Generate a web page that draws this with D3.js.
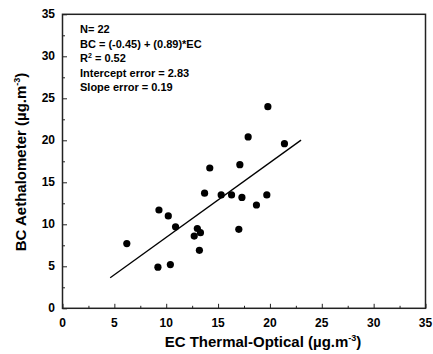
<!doctype html>
<html>
  <head>
    <script src="https://d3js.org/d3.v7.min.js"></script>
    <style>
      body { margin: 0; background: #fff; }
      text { font-family: Arial, "Liberation Sans", sans-serif; font-weight: bold; }
    </style>
  </head>
  <body>
    <div id="chart"></div>
    <script>
      // EC (thermal-optical) vs BC (aethalometer)
      var ecValues = [6.2, 9.2, 9.3, 10.2, 10.4, 10.9, 12.7, 13.0, 13.3, 13.2, 13.7, 14.2,
                      15.3, 16.3, 17.0, 17.1, 17.3, 17.9, 18.7, 19.7, 19.8, 21.4];
      var bcValues = [7.7, 4.9, 11.7, 11.0, 5.2, 9.7, 8.6, 9.5, 9.0, 6.9, 13.7, 16.7,
                      13.5, 13.5, 9.4, 17.1, 13.2, 20.4, 12.3, 13.5, 24.0, 19.6];
      var fitRange = [4.6, 23];
      var intercept = -0.45, slope = 0.89;
      var statLines = ["N= 22", "BC = (-0.45) + (0.89)*EC", "R2", "Intercept error = 2.83", "Slope error = 0.19"];
      var tickValues = [0, 5, 10, 15, 20, 25, 30, 35];
      var minorTicks = [2.5, 7.5, 12.5, 17.5, 22.5, 27.5, 32.5];

      var width = 433, height = 354;
      // plot frame edges (window.top is reserved, so use other names)
      var plotLeft = 62.5, plotRight = 425.5, plotTop = 14.3, plotBottom = 308.3;

      var svg = d3.select("#chart").append("svg")
        .attr("width", width)
        .attr("height", height);

      var x = d3.scaleLinear().domain([0, 35]).range([plotLeft, plotRight]);
      var y = d3.scaleLinear().domain([0, 35]).range([plotBottom, plotTop]);

      // minor and major ticks point inward
      var xMinor = d3.axisTop(x).tickValues(minorTicks).tickSize(2.5).tickFormat("");
      var yMinor = d3.axisRight(y).tickValues(minorTicks).tickSize(2.5).tickFormat("");
      var xMajor = d3.axisTop(x).tickValues(tickValues).tickSize(4.5).tickFormat("");
      var yMajor = d3.axisRight(y).tickValues(tickValues).tickSize(4.5).tickFormat("");

      [xMinor, xMajor].forEach(function(ax) {
        svg.append("g").attr("transform", "translate(0," + plotBottom + ")").call(ax)
          .call(function(g) { g.select(".domain").remove(); g.selectAll("line").attr("stroke", "#222").attr("stroke-width", 1); });
      });
      [yMinor, yMajor].forEach(function(ax) {
        svg.append("g").attr("transform", "translate(" + plotLeft + ",0)").call(ax)
          .call(function(g) { g.select(".domain").remove(); g.selectAll("line").attr("stroke", "#222").attr("stroke-width", 1); });
      });

      // frame
      svg.append("rect")
        .attr("x", plotLeft).attr("y", plotTop)
        .attr("width", plotRight - plotLeft).attr("height", plotBottom - plotTop)
        .attr("fill", "none").attr("stroke", "#222").attr("stroke-width", 1.5);

      // tick labels
      svg.selectAll(".xl").data(tickValues).enter().append("text")
        .attr("x", function(d) { return x(d); })
        .attr("y", 327)
        .attr("text-anchor", "middle")
        .style("font-size", "12px")
        .text(function(d) { return d; });
      svg.selectAll(".yl").data(tickValues).enter().append("text")
        .attr("x", 55)
        .attr("y", function(d) { return y(d) + 4; })
        .attr("text-anchor", "end")
        .style("font-size", "12px")
        .text(function(d) { return d; });

      // axis titles
      var xt = svg.append("text")
        .attr("x", 263).attr("y", 347)
        .attr("text-anchor", "middle")
        .style("font-size", "15px")
        .text("EC Thermal-Optical (\u00b5g.m");
      xt.append("tspan").attr("dy", -6).style("font-size", "9px").text("-3");
      xt.append("tspan").attr("dy", 6).text(")");

      var yt = svg.append("text")
        .attr("transform", "translate(26," + 162 + ") rotate(-90)")
        .attr("text-anchor", "middle")
        .style("font-size", "15px")
        .text("BC Aethalometer (\u00b5g.m");
      yt.append("tspan").attr("dy", -6).style("font-size", "9px").text("-3");
      yt.append("tspan").attr("dy", 6).text(")");

      // fit line
      var line = d3.line()
        .x(function(d) { return x(d); })
        .y(function(d) { return y(intercept + slope * d); });
      svg.append("path")
        .datum(fitRange)
        .attr("d", line)
        .attr("fill", "none")
        .attr("stroke", "#000")
        .attr("stroke-width", 1.3);

      // points
      svg.selectAll("circle").data(ecValues).enter().append("circle")
        .attr("cx", function(d) { return x(d); })
        .attr("cy", function(d, i) { return y(bcValues[i]); })
        .attr("r", 3.6)
        .attr("fill", "#000");

      // statistics block
      var stats = svg.append("g").attr("transform", "translate(80,0)");
      statLines.forEach(function(s, i) {
        var t = stats.append("text")
          .attr("x", 0)
          .attr("y", 33 + i * 14.6)
          .style("font-size", "11px");
        if (s === "R2") {
          t.text("R");
          t.append("tspan").attr("dy", -4).style("font-size", "7px").text("2");
          t.append("tspan").attr("dy", 4).text(" = 0.52");
        } else {
          t.text(s);
        }
      });
    </script>
  </body>
</html>
